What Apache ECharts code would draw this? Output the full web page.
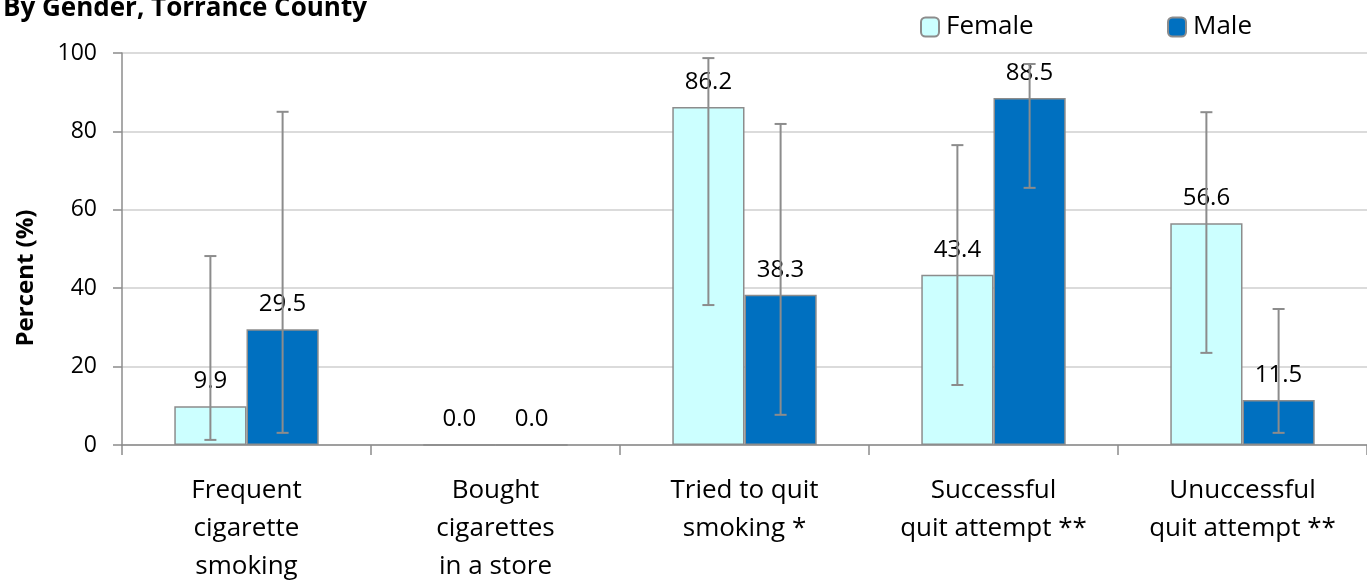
<!DOCTYPE html>
<html><head><meta charset="utf-8">
<script src="https://cdn.jsdelivr.net/npm/echarts@6/dist/echarts.min.js"></script>
<style>html,body{margin:0;padding:0;background:#fff}#c{width:1367px;height:581px}</style>
</head><body><div id="c"></div>
<script>
const categories = ["Frequent\ncigarette\nsmoking","Bought\ncigarettes\nin a store","Tried to quit\nsmoking *","Successful\nquit attempt **","Unuccessful\nquit attempt **"];
const female = [9.9, 0.0, 86.2, 43.4, 56.6];
const male = [29.5, 0.0, 38.3, 88.5, 11.5];
const femaleLow = [1.3, null, 35.7, 15.3, 23.5];
const femaleHigh = [48.2, null, 98.7, 76.5, 84.9];
const maleLow = [3.1, null, 7.7, 65.6, 3.1];
const maleHigh = [85.0, null, 81.9, 97.2, 34.7];
const yTicks = [0, 20, 40, 60, 80, 100];

const FONT = "Open Sans";
const GAP = 0.42;
const AX = '#8c8c8c';
function errSeries(lows, highs, side) {
  return {
    type: 'custom',
    z: 5,
    data: lows.map((l, i) => [i, l, highs[i]]),
    renderItem: function (params, api) {
      const l = api.value(1), h = api.value(2);
      if (l === null || h === null || isNaN(l) || isNaN(h)) return null;
      const band = api.size([1, 0])[0];
      const off = side * band * (1 - GAP) / 4;
      const p1 = api.coord([api.value(0), l]);
      const p2 = api.coord([api.value(0), h]);
      const x = p1[0] + off, cap = 6;
      const st = { stroke: AX, lineWidth: 2 };
      return { type: 'group', children: [
        { type: 'line', shape: { x1: x, y1: p1[1], x2: x, y2: p2[1] }, style: st },
        { type: 'line', shape: { x1: x - cap, y1: p1[1], x2: x + cap, y2: p1[1] }, style: st },
        { type: 'line', shape: { x1: x - cap, y1: p2[1], x2: x + cap, y2: p2[1] }, style: st }
      ]};
    }
  };
}
const chart = echarts.init(document.getElementById('c'));
const lbl = { show: true, position: 'top', distance: 13, color: '#000', fontSize: 24, fontFamily: FONT, formatter: p => p.value.toFixed(1) };
const legText = { fontSize: 26, color: '#000', fontFamily: FONT, padding: [0, 0, 0, 2] };
chart.setOption({
  animation: false,
  textStyle: { fontFamily: FONT },
  title: { text: 'By Gender, Torrance County', left: -2, top: -9, padding: 5, textStyle: { fontSize: 26, fontWeight: 'bold', color: '#000', fontFamily: FONT } },
  legend: [
    { data: ['Female'], left: 920, top: 14, padding: 0, itemWidth: 18, itemHeight: 19, textStyle: legText },
    { data: ['Male'], left: 1167, top: 14, padding: 0, itemWidth: 18, itemHeight: 19, textStyle: legText }
  ],
  graphic: [{
    type: 'text', x: 26, y: 278, rotation: Math.PI / 2,
    style: { text: 'Percent (%)', align: 'center', verticalAlign: 'middle', fontSize: 24, fontWeight: 'bold', fill: '#000', fontFamily: FONT }
  }],
  grid: { left: 122, right: 0, top: 53, bottom: 136, containLabel: false, outerBoundsMode: 'none' },
  xAxis: {
    type: 'category', data: categories,
    axisLine: { lineStyle: { color: AX, width: 1.5 } },
    axisTick: { show: true, length: 10, lineStyle: { color: AX, width: 1.5 } },
    axisLabel: { color: '#000', fontSize: 26, lineHeight: 38, margin: 27, fontFamily: FONT, interval: 0 }
  },
  yAxis: {
    type: 'value', min: 0, max: 100, interval: 20,
    axisLine: { show: true, lineStyle: { color: AX, width: 1.5 } },
    axisTick: { show: true, length: 9, lineStyle: { color: AX, width: 1.5 } },
    axisLabel: { color: '#000', fontSize: 23, margin: 25, fontFamily: FONT, formatter: v => yTicks.includes(v) ? String(v) : '' },
    splitLine: { lineStyle: { color: '#cfcfcf', width: 1.5 } }
  },
  series: [
    { name: 'Female', type: 'bar', data: female, barGap: '0%', barCategoryGap: '42%',
      itemStyle: { color: '#CCFFFF', borderColor: AX, borderWidth: 1.5 }, label: lbl, z: 2 },
    { name: 'Male', type: 'bar', data: male,
      itemStyle: { color: '#0070C0', borderColor: AX, borderWidth: 1.5 }, label: lbl, z: 2 },
    errSeries(femaleLow, femaleHigh, -1),
    errSeries(maleLow, maleHigh, 1)
  ]
});
</script></body></html>
